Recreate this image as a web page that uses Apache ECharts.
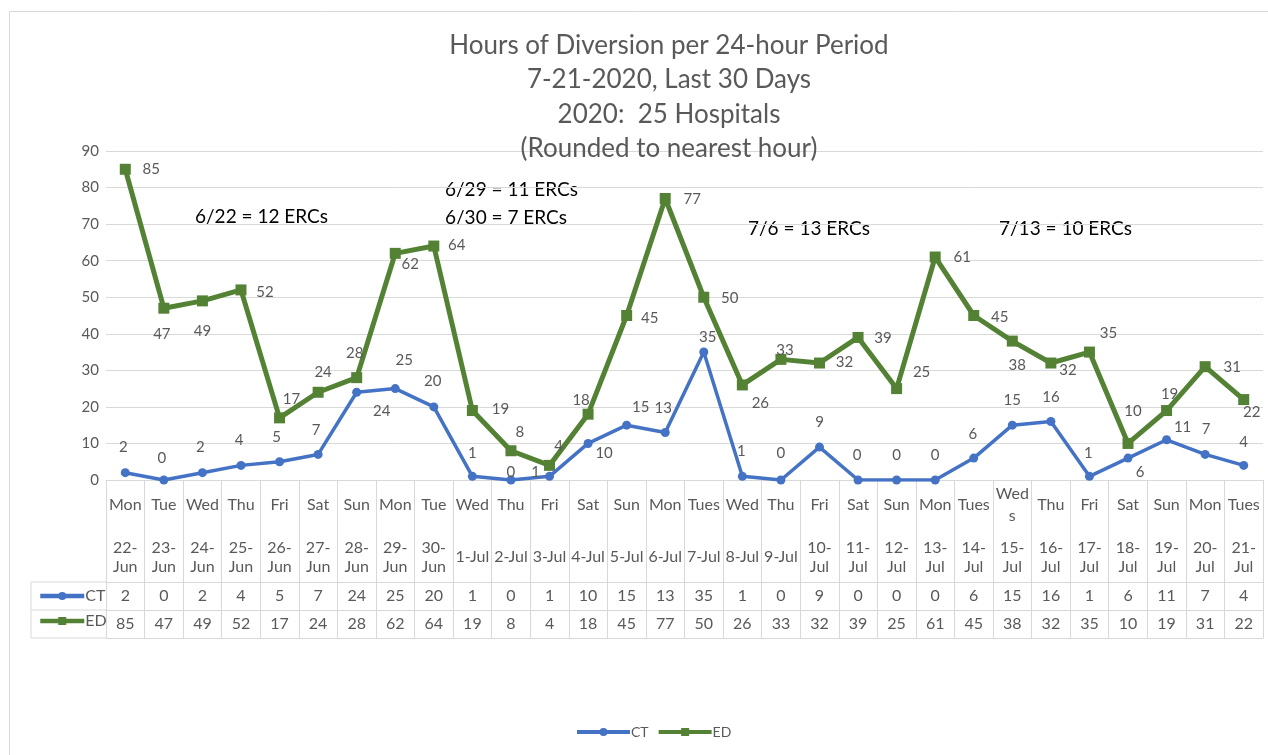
<!DOCTYPE html>
<html>
<head>
<meta charset="utf-8">
<title>Hours of Diversion</title>
<script src="https://cdn.jsdelivr.net/npm/echarts@6/dist/echarts.min.js"></script>
<style>
  html, body { margin: 0; padding: 0; background: #fff; }
  #main { width: 1268px; height: 755px; }
</style>
</head>
<body>
<div id="main"></div>
<script>
// data
var dayNames = ['Mon', 'Tue', 'Wed', 'Thu', 'Fri', 'Sat', 'Sun', 'Mon', 'Tue', 'Wed',
  'Thu', 'Fri', 'Sat', 'Sun', 'Mon', 'Tues', 'Wed', 'Thu', 'Fri', 'Sat',
  'Sun', 'Mon', 'Tues', 'Wed\ns', 'Thu', 'Fri', 'Sat', 'Sun', 'Mon', 'Tues'];
var dates = ['22-\nJun', '23-\nJun', '24-\nJun', '25-\nJun', '26-\nJun', '27-\nJun', '28-\nJun', '29-\nJun', '30-\nJun',
  '1-Jul', '2-Jul', '3-Jul', '4-Jul', '5-Jul', '6-Jul', '7-Jul', '8-Jul', '9-Jul',
  '10-\nJul', '11-\nJul', '12-\nJul', '13-\nJul', '14-\nJul', '15-\nJul', '16-\nJul', '17-\nJul',
  '18-\nJul', '19-\nJul', '20-\nJul', '21-\nJul'];
var ct = [2, 0, 2, 4, 5, 7, 24, 25, 20, 1, 0, 1, 10, 15, 13, 35, 1, 0, 9, 0, 0, 0, 6, 15, 16, 1, 6, 11, 7, 4];
var ed = [85, 47, 49, 52, 17, 24, 28, 62, 64, 19, 8, 4, 18, 45, 77, 50, 26, 33, 32, 39, 25, 61, 45, 38, 32, 35, 10, 19, 31, 22];
var yTicks = [0, 10, 20, 30, 40, 50, 60, 70, 80, 90];

var titleLines = ['Hours of Diversion per 24-hour Period', '7-21-2020, Last 30 Days',
  '2020:  25 Hospitals', '(Rounded to nearest hour)'];
var notes = [
  { text: '6/22 = 12 ERCs', x: 195, y: 217 },
  { text: '6/29 = 11 ERCs', x: 445, y: 190 },
  { text: '6/30 = 7 ERCs', x: 445, y: 218 },
  { text: '7/6 = 13 ERCs', x: 748, y: 229 },
  { text: '7/13 = 10 ERCs', x: 999, y: 229 }
];

// label nudges (label centre relative to the marker), to mimic Excel's placement
var ctOff = [[-2, -26], [-2, -22], [-2, -26], [-2, -25], [-3, -25], [-2, -24], [25, 19], [9, -28], [-1, -26], [0, -23],
  [0, -8], [-14, -4], [16, 10], [14, -18], [-2, -24], [4, -15], [-1, -25], [0, -27], [0, -25], [-1, -25],
  [0, -25], [0, -25], [-1, -24], [0, -25], [0, -24], [-1, -23], [12, 14], [16, -13], [1, -25], [0, -23]];
var edOff = [[26, 0], [-2, 26], [0, 30], [24, 2], [12, -19], [5, -20], [-2, -24], [15, 11], [23, -1], [28, -1],
  [9, -19], [9, -19], [-7, -14], [23, 3], [27, 1], [26, 1], [18, 18], [4, -9], [25, -1], [25, 1],
  [25, -16], [27, 0], [26, 2], [5, 24], [17, 7], [19, -19], [5, -32], [3, -16], [27, 0], [8, 13]];

var FONT = 'Lato, "Open Sans", sans-serif';
var TXT = '#595959';
var LINE = '#d9d9d9';
var BLUE = '#4472C4';
var GREEN = '#548235';

function withLabels(values, offs) {
  return values.map(function (v, i) {
    return { value: v, label: { offset: offs[i] } };
  });
}

function tableAxis(data, offset, margin, showLine) {
  return {
    type: 'category',
    gridIndex: 0,
    position: 'bottom',
    offset: offset,
    data: data,
    axisLine: { show: showLine, lineStyle: { color: LINE, width: 1 } },
    axisTick: { show: false },
    axisLabel: {
      interval: 0, margin: margin, color: TXT, fontFamily: FONT, fontSize: 16,
      verticalAlign: 'middle', lineHeight: 19
    },
    splitLine: { show: false }
  };
}

var chart = echarts.init(document.getElementById('main'));

var option = {
  animation: false,
  backgroundColor: '#fff',
  textStyle: { fontFamily: FONT },
  title: {
    text: titleLines.join('\n'),
    left: 664,
    top: 23,
    textAlign: 'center',
    textStyle: { color: TXT, fontFamily: FONT, fontSize: 26, fontWeight: 'normal', lineHeight: 34.5 }
  },
  legend: [
    {
      data: ['CT', 'ED'],
      top: 720,
      left: 570,
      itemWidth: 53,
      itemHeight: 10,
      itemGap: 8,
      lineStyle: { width: 4 },
      textStyle: { color: TXT, fontSize: 14, fontFamily: FONT, padding: [0, 0, 0, -4] }
    },
    {
      data: ['CT', 'ED'],
      orient: 'vertical',
      left: 33,
      top: 583,
      itemWidth: 44,
      itemHeight: 10,
      itemGap: 9,
      selectedMode: false,
      lineStyle: { width: 4.5 },
      textStyle: { color: TXT, fontSize: 16, fontFamily: FONT, padding: [0, 0, 0, -4] }
    }
  ],
  grid: { left: 106, right: 5, top: 151, bottom: 275, containLabel: false },
  xAxis: [
    {
      type: 'category',
      data: dayNames,
      boundaryGap: true,
      axisLine: { show: true, lineStyle: { color: LINE, width: 1 } },
      axisTick: { show: true, interval: 0, length: 158, lineStyle: { color: LINE, width: 1 } },
      axisLabel: {
        interval: 0, margin: 25, color: TXT, fontFamily: FONT, fontSize: 16,
        verticalAlign: 'middle', lineHeight: 22
      },
      splitLine: { show: false }
    },
    tableAxis(dates, 0, 77, false),
    tableAxis(ct.map(String), 102, 14, true),
    tableAxis(ed.map(String), 130, 14, true),
    tableAxis(ct.map(function () { return ''; }), 158, 14, true)
  ],
  yAxis: {
    type: 'value',
    min: yTicks[0],
    max: yTicks[yTicks.length - 1],
    interval: 10,
    axisLine: { show: false },
    axisTick: { show: false },
    axisLabel: { color: TXT, fontFamily: FONT, fontSize: 15, margin: 7 },
    splitLine: { lineStyle: { color: LINE, width: 1 } }
  },
  series: [
    {
      name: 'CT',
      type: 'line',
      data: withLabels(ct, ctOff),
      symbol: 'circle',
      symbolSize: 9,
      itemStyle: { color: BLUE },
      lineStyle: { color: BLUE, width: 3.5 },
      label: { show: true, position: 'inside', color: TXT, fontFamily: FONT, fontSize: 15 },
      z: 3
    },
    {
      name: 'ED',
      type: 'line',
      data: withLabels(ed, edOff),
      symbol: 'rect',
      symbolSize: 11,
      itemStyle: { color: GREEN },
      lineStyle: { color: GREEN, width: 5 },
      label: { show: true, position: 'inside', color: TXT, fontFamily: FONT, fontSize: 15 },
      z: 2
    }
  ],
  graphic: [
    // chart area border
    { type: 'rect', left: 7, top: 9, shape: { width: 1300, height: 800 },
      style: { fill: 'none', stroke: LINE, lineWidth: 1 }, silent: true, z: -10 },
    // legend-key column of the data table
    { type: 'polyline', shape: { points: [[106, 582], [31, 582], [31, 638], [106, 638]] },
      style: { fill: 'none', stroke: LINE, lineWidth: 1 }, silent: true },
    { type: 'line', shape: { x1: 31, y1: 610, x2: 106, y2: 610 },
      style: { stroke: LINE, lineWidth: 1 }, silent: true }
  ].concat(notes.map(function (n) {
    return {
      type: 'text', x: n.x, y: n.y, silent: true,
      style: { text: n.text, fill: '#000', font: '19px ' + FONT, verticalAlign: 'middle' }
    };
  }))
};

chart.setOption(option);
</script>
</body>
</html>
